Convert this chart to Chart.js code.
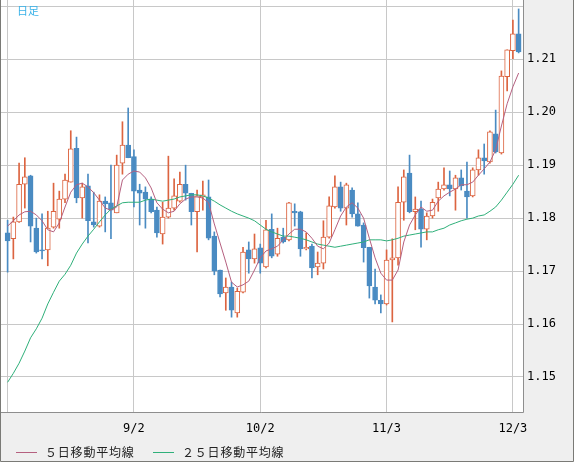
<!DOCTYPE html>
<html>
<head>
<meta charset="utf-8">
<script src="https://cdn.jsdelivr.net/npm/chart.js@4.4.1/dist/chart.umd.min.js"></script>
<style>
  html, body { margin:0; padding:0; background:#efefef; }
  #wrap { position:relative; width:574px; height:462px; overflow:hidden; }
  canvas { position:absolute; left:0; top:0; }
  .lbl { position:absolute; font-family:"Noto Sans CJK JP", sans-serif; white-space:nowrap; }
  #title { left:17px; top:2px; font-size:11px; color:#3ab2e8; }
  .leg { top:444px; font-size:12px; color:#222; letter-spacing:0.8px; line-height:16px; }
  .legline { position:absolute; top:452px; height:1px; width:21px; }
</style>
</head>
<body>
<div id="wrap">
  <canvas id="c" width="574" height="462"></canvas>
  <div id="title" class="lbl">日足</div>
  <div class="legline" style="left:16px;background:#b5607f"></div>
  <div class="lbl leg" style="left:45px">５日移動平均線</div>
  <div class="legline" style="left:153px;background:#2fb07a"></div>
  <div class="lbl leg" style="left:182px">２５日移動平均線</div>
</div>
<script>
// ---- data (daily candles) ----
const opens = [
1.1772,1.1761,1.1793,1.1864,1.1880,1.1781,1.1740,1.1740,1.1783,1.1798,
1.1836,1.1868,1.1932,1.1838,1.1861,1.1793,1.1785,1.1832,1.1829,1.1810,
1.1904,1.1938,1.1916,1.1853,1.1849,1.1836,1.1815,1.1770,1.1802,1.1819,
1.1832,1.1864,1.1847,1.1812,1.1840,1.1840,1.1766,1.1702,1.1659,1.1670,
1.1621,1.1660,1.1740,1.1723,1.1744,1.1708,1.1779,1.1732,1.1764,1.1759,
1.1813,1.1812,1.1742,1.1747,1.1708,1.1715,1.1764,1.1821,1.1859,1.1819,
1.1853,1.1808,1.1787,1.1745,1.1670,1.1645,1.1638,1.1721,1.1725,1.1830,
1.1885,1.1812,1.1817,1.1779,1.1804,1.1838,1.1855,1.1863,1.1855,1.1876,
1.1851,1.1842,1.1891,1.1914,1.1906,1.1959,1.1923,1.2067,1.2116,1.2148];
const highs = [
1.1796,1.1802,1.1904,1.1914,1.1881,1.1800,1.1808,1.1813,1.1866,1.1851,
1.1883,1.1965,1.1953,1.1866,1.1883,1.1849,1.1844,1.1840,1.1900,1.1919,
1.1982,1.2008,1.1929,1.1864,1.1859,1.1840,1.1821,1.1830,1.1917,1.1874,
1.1887,1.1900,1.1847,1.1853,1.1870,1.1872,1.1774,1.1702,1.1687,1.1679,
1.1668,1.1745,1.1755,1.1770,1.1751,1.1796,1.1808,1.1781,1.1781,1.1830,
1.1827,1.1813,1.1772,1.1751,1.1736,1.1795,1.1840,1.1880,1.1868,1.1866,
1.1857,1.1829,1.1791,1.1745,1.1704,1.1655,1.1740,1.1761,1.1859,1.1891,
1.1919,1.1840,1.1832,1.1810,1.1836,1.1868,1.1895,1.1889,1.1881,1.1891,
1.1906,1.1895,1.1929,1.1940,1.1965,1.2004,1.2078,1.2118,1.2174,1.2195];
const lows = [
1.1698,1.1723,1.1792,1.1819,1.1755,1.1734,1.1723,1.1710,1.1781,1.1781,
1.1829,1.1868,1.1829,1.1800,1.1753,1.1783,1.1783,1.1774,1.1761,1.1810,
1.1883,1.1914,1.1821,1.1787,1.1781,1.1810,1.1764,1.1751,1.1800,1.1815,
1.1830,1.1834,1.1787,1.1736,1.1815,1.1759,1.1693,1.1651,1.1626,1.1613,
1.1613,1.1659,1.1696,1.1715,1.1696,1.1706,1.1725,1.1728,1.1753,1.1757,
1.1785,1.1728,1.1740,1.1687,1.1693,1.1704,1.1762,1.1819,1.1813,1.1787,
1.1802,1.1785,1.1717,1.1649,1.1638,1.1621,1.1636,1.1604,1.1711,1.1796,
1.1810,1.1778,1.1745,1.1759,1.1800,1.1813,1.1853,1.1842,1.1815,1.1853,
1.1800,1.1840,1.1881,1.1883,1.1904,1.1923,1.1921,1.2040,1.2101,1.2112];
const closes = [
1.1757,1.1793,1.1864,1.1878,1.1785,1.1736,1.1738,1.1781,1.1813,1.1836,
1.1872,1.1931,1.1838,1.1859,1.1795,1.1787,1.1832,1.1827,1.1815,1.1900,
1.1938,1.1914,1.1851,1.1847,1.1836,1.1812,1.1772,1.1802,1.1819,1.1842,
1.1864,1.1847,1.1812,1.1842,1.1844,1.1762,1.1700,1.1657,1.1670,1.1626,
1.1662,1.1736,1.1723,1.1742,1.1715,1.1778,1.1728,1.1762,1.1755,1.1829,
1.1810,1.1742,1.1745,1.1706,1.1715,1.1764,1.1823,1.1859,1.1819,1.1863,
1.1808,1.1785,1.1744,1.1672,1.1645,1.1638,1.1721,1.1725,1.1830,1.1878,
1.1812,1.1817,1.1779,1.1804,1.1830,1.1855,1.1863,1.1855,1.1876,1.1861,
1.1840,1.1891,1.1914,1.1908,1.1963,1.1925,1.2068,1.2118,1.2148,1.2114];
const ma5 = [
1.1785,1.1795,1.1806,1.1812,1.1813,1.1806,1.1795,1.1778,1.1774,1.1791,
1.1821,1.1849,1.1863,1.1866,1.1859,1.1848,1.1834,1.1819,1.1815,1.1821,
1.1872,1.1883,1.1889,1.1887,1.1876,1.1857,1.1829,1.1817,1.1810,1.1813,
1.1827,1.1836,1.1840,1.1840,1.1838,1.1829,1.1789,1.1753,1.1717,1.1679,
1.1670,1.1674,1.1681,1.1702,1.1725,1.1738,1.1742,1.1747,1.1759,1.1770,
1.1779,1.1779,1.1774,1.1762,1.1747,1.1742,1.1753,1.1778,1.1804,1.1821,
1.1829,1.1819,1.1800,1.1762,1.1725,1.1696,1.1683,1.1683,1.1702,1.1755,
1.1787,1.1806,1.1821,1.1813,1.1815,1.1832,1.1842,1.1849,1.1855,1.1863,
1.1863,1.1868,1.1881,1.1893,1.1906,1.1929,1.1974,1.2016,1.2048,1.2074];
const ma25 = [
1.1490,1.1507,1.1526,1.1549,1.1574,1.1591,1.1611,1.1638,1.1660,1.1681,
1.1694,1.1711,1.1734,1.1751,1.1766,1.1779,1.1793,1.1806,1.1817,1.1823,
1.1829,1.1830,1.1830,1.1830,1.1834,1.1836,1.1834,1.1832,1.1834,1.1836,
1.1840,1.1842,1.1844,1.1844,1.1842,1.1838,1.1832,1.1825,1.1819,1.1813,
1.1808,1.1804,1.1800,1.1795,1.1787,1.1779,1.1774,1.1770,1.1766,1.1766,
1.1764,1.1762,1.1759,1.1755,1.1751,1.1749,1.1747,1.1745,1.1747,1.1749,
1.1751,1.1753,1.1755,1.1759,1.1759,1.1759,1.1757,1.1759,1.1762,1.1766,
1.1768,1.1770,1.1772,1.1774,1.1774,1.1778,1.1781,1.1787,1.1791,1.1795,
1.1798,1.1800,1.1804,1.1806,1.1813,1.1821,1.1834,1.1849,1.1864,1.1881];
const xTickDays   = [0, 22, 44, 66, 88];
const xTickLabels = ['', '9/2', '10/2', '11/3', '12/3'];
const yTickValues = [1.15, 1.16, 1.17, 1.18, 1.19, 1.20, 1.21, 1.22];
const yTickLabels = ['1.15','1.16','1.17','1.18','1.19','1.20','1.21',''];
const seriesNames = ['５日移動平均線', '２５日移動平均線'];

// ---- styles ----
const RED = '#dc6440', BLUE = '#4a8bc2', MA5C = '#b5607f', MA25C = '#2fb07a';
const isUp = i => closes[i] >= opens[i];

const bgPlugin = {
  id: 'bg',
  beforeDraw(c) {
    const { ctx, chartArea: a } = c;
    ctx.save();
    ctx.fillStyle = '#efefef';
    ctx.fillRect(0, 0, c.width, c.height);
    ctx.fillStyle = '#ffffff';
    ctx.fillRect(a.left, a.top, a.right - a.left, a.bottom - a.top);
    ctx.restore();
  },
  afterDraw(c) {
    const { ctx, chartArea: a } = c;
    ctx.save();
    ctx.lineWidth = 1;
    ctx.strokeStyle = '#8e8e8e';
    ctx.beginPath();
    ctx.moveTo(a.right + 0.5, 0); ctx.lineTo(a.right + 0.5, a.bottom + 0.5);
    ctx.lineTo(0, a.bottom + 0.5);
    ctx.stroke();
    ctx.strokeStyle = '#7a7a76';
    ctx.beginPath();
    ctx.moveTo(0.5, 0); ctx.lineTo(0.5, c.height - 0.5);
    ctx.lineTo(c.width - 0.5, c.height - 0.5); ctx.lineTo(c.width - 0.5, 0);
    ctx.stroke();
    ctx.restore();
  }
};

const noPad = s => { s.paddingTop = 0; s.paddingBottom = 0; s.paddingLeft = 0; s.paddingRight = 0; };

new Chart(document.getElementById('c'), {
  type: 'bar',
  data: {
    datasets: [
      { type: 'line', label: seriesNames[0], data: ma5.map((v, i) => ({ x: i, y: v })),
        borderColor: MA5C, borderWidth: 1, pointRadius: 0, tension: 0, order: 0 },
      { type: 'line', label: seriesNames[1], data: ma25.map((v, i) => ({ x: i, y: v })),
        borderColor: MA25C, borderWidth: 1, pointRadius: 0, tension: 0, order: 0 },
      { type: 'bar', label: 'body', data: opens.map((o, i) => ({ x: i, y: [o, closes[i]] })),
        backgroundColor: ctx => isUp(ctx.dataIndex) ? '#ffffff' : BLUE,
        borderColor: ctx => isUp(ctx.dataIndex) ? RED : BLUE,
        borderWidth: 1, borderSkipped: false, barThickness: 5, grouped: false, order: 1 },
      { type: 'bar', label: 'wick', data: lows.map((l, i) => ({ x: i, y: [l, highs[i]] })),
        backgroundColor: ctx => isUp(ctx.dataIndex) ? RED : BLUE,
        borderWidth: 0, barThickness: 1, grouped: false, order: 2 }
    ]
  },
  options: {
    responsive: false,
    animation: false,
    devicePixelRatio: 1,
    layout: { padding: { left: 1, top: 0, right: 0, bottom: 0 } },
    plugins: { legend: { display: false }, tooltip: { enabled: false } },
    scales: {
      x: {
        type: 'linear', min: -1.15, max: 89.76, offset: false,
        grid: { color: '#c8c8c8', lineWidth: 1, drawTicks: false, offset: false },
        border: { display: false },
        afterBuildTicks: s => { s.ticks = xTickDays.map(v => ({ value: v })); },
        afterFit: s => { s.height = 50; noPad(s); },
        ticks: {
          autoSkip: false, maxRotation: 0, padding: 10, color: '#000',
          font: { family: 'DejaVu Sans Mono', size: 12 },
          callback: v => xTickLabels[xTickDays.indexOf(v)]
        }
      },
      y: {
        position: 'right', min: 1.14339, max: 1.22119,
        grid: { color: '#c8c8c8', lineWidth: 1, drawTicks: false },
        border: { display: false },
        afterBuildTicks: s => { s.ticks = yTickValues.map(v => ({ value: v })); },
        afterFit: s => { s.width = 51; noPad(s); },
        ticks: {
          padding: 4, color: '#000',
          font: { family: 'DejaVu Sans Mono', size: 12 },
          callback: (v, idx) => yTickLabels[idx]
        }
      }
    }
  },
  plugins: [bgPlugin]
});
</script>
</body>
</html>
